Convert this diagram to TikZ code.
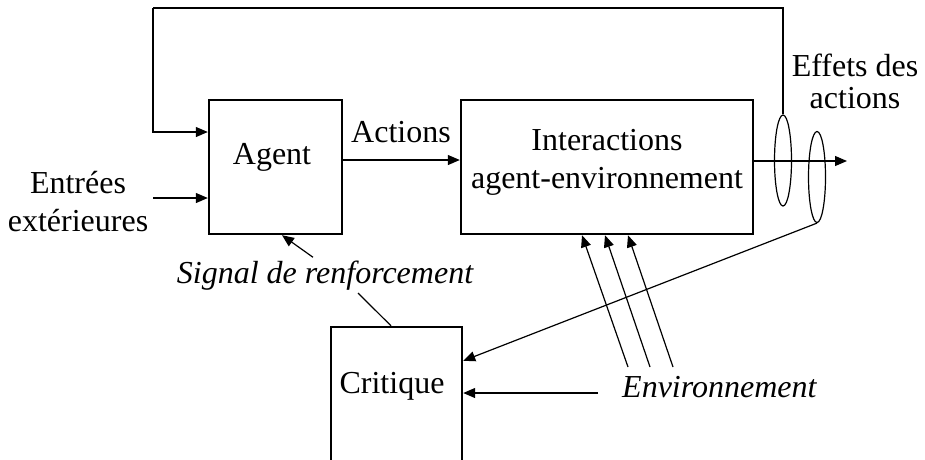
\documentclass[tikz,border=0pt]{standalone}
\usepackage{fontspec}
\setmainfont{Liberation Serif}
\usetikzlibrary{arrows.meta,calc,shapes.geometric}
\begin{document}
\begin{tikzpicture}[x=1pt,y=-1pt,
  box/.style={draw,line width=2.4pt,inner sep=0pt},
  conn/.style={line width=1.2pt},
  arr/.style={conn,-{Triangle[length=12pt,width=10pt]}},
  txt/.style={font=\fontsize{32}{37}\selectfont,align=center,inner sep=0pt},
  itxt/.style={font=\fontsize{32}{37}\selectfont\itshape,align=center,inner sep=0pt},
  ring/.style={draw,ellipse,line width=1.2pt,inner sep=0pt,minimum width=17pt,minimum height=91pt}
]
\useasboundingbox (0,0) rectangle (925,459);
\clip (0,0) rectangle (925,459);

% boxes
\node[box,minimum width=133pt,minimum height=134pt] (agent) at (275.5,167) {};
\node[box,minimum width=292pt,minimum height=134pt] (inter) at (607,167) {};
\node[box,minimum width=131pt,minimum height=146pt] (critique) at (396.5,400) {};

% texts
\node[txt,anchor=base] (agentlbl) at (272,164) {Agent};
\node[txt,anchor=base] (interlbl1) at (607,150) {Interactions};
\node[txt,anchor=base] (interlbl2) at (607,188) {agent-environnement};
\node[txt,anchor=base] (critlbl) at (392,393) {Critique};
\node[txt,anchor=base] (actlbl) at (401,142) {Actions};
\node[txt,anchor=base] (in1) at (78,193) {Entrées};
\node[txt,anchor=base] (in2) at (78,231) {extérieures};
\node[txt,anchor=base] (eff1) at (855,76) {Effets des};
\node[txt,anchor=base] (eff2) at (855,108) {actions};
\node[itxt,anchor=base west] (env) at (622,397) {Environnement};

% rings
\node[ring] (e1) at (783,160.5) {};
\node[ring] (e2) at (817,177) {};

% coordinates
\coordinate (fb) at (153,8);
\coordinate (inpt) at (153,198);
\coordinate (out) at (847,161);
\coordinate (envin) at (598,393);
\coordinate (s1) at (628,367);
\coordinate (s2) at (650,367);
\coordinate (s3) at (673,367);

% connectors
\draw[arr] ([yshift=7pt]agent.east) -- ([yshift=7pt]inter.west);
\draw[arr] ([yshift=6pt]inter.east) -- (out);
\draw[conn] (e1.north) |- (fb);
\draw[arr] (fb) |- ([yshift=35pt]agent.west);
\draw[arr] (inpt) -- ([yshift=-31pt]agent.west);
\draw[arr] (e2.south) -- ($(critique.north east)+(0,35)$);
\draw[arr] (envin) -- (envin -| critique.east);
\draw[arr] (s1) -- ([xshift=-25pt]inter.south);
\draw[arr] (s2) -- ([xshift=-2pt]inter.south);
\draw[arr] (s3) -- ([xshift=21pt]inter.south);

% signal label
\node[itxt,anchor=base,fill=white,inner sep=3pt] (sig) at (325,283) {Signal de renforcement};
\draw[arr] ([xshift=-12pt]sig.north) -- ([xshift=6.5pt]agent.south);
\draw[conn] ([xshift=-5.5pt]critique.north) -- ([xshift=33pt]sig.south);
\end{tikzpicture}
\end{document}
